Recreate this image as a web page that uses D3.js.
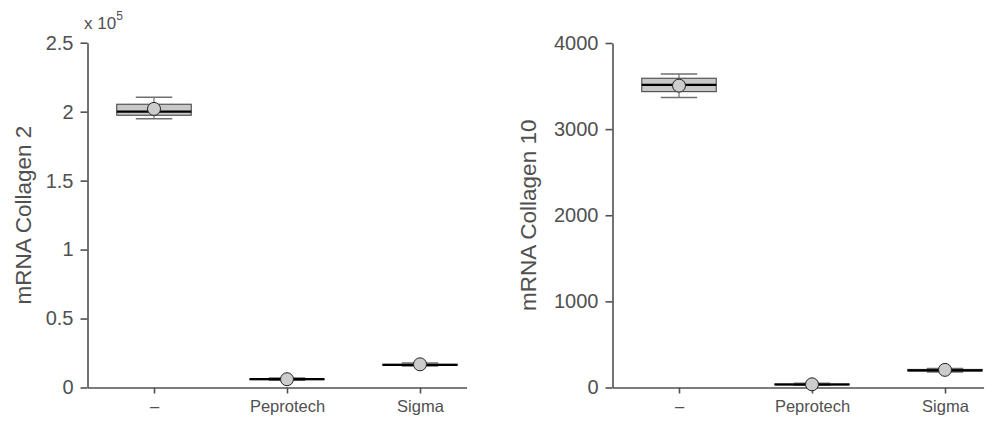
<!DOCTYPE html>
<html><head><meta charset="utf-8">
<script src="https://cdn.jsdelivr.net/npm/d3@7"></script>
<style>
body{margin:0;background:#fff}
svg{display:block}
text{font-family:"Liberation Sans",Arial,Helvetica,sans-serif;fill:#505050}
</style>
</head><body>
<svg id="chart" width="1001" height="427"></svg>
<script>
// Treatment groups (x axis)
const categories = ["\u2013", "Peprotech", "Sigma"];

// Collagen 2 expression: box summary per treatment
const col2Low    = [194900, 5300, 15500];
const col2Q1     = [197400, 5700, 16000];
const col2Median = [200000, 6000, 16300];
const col2Q3     = [205400, 6300, 17000];
const col2High   = [210400, 6800, 17800];
const col2Mean   = [202000, 6000, 16800];
const col2Ticks  = [0, 50000, 100000, 150000, 200000, 250000];
const col2TickLabels = ["0", "0.5", "1", "1.5", "2", "2.5"];

// Collagen 10 expression: box summary per treatment
const col10Low    = [3366, 25, 180];
const col10Q1     = [3435, 30, 192];
const col10Median = [3513, 35, 200];
const col10Q3     = [3591, 42, 210];
const col10High   = [3641, 48, 222];
const col10Mean   = [3505, 37, 205];
const col10Ticks  = [0, 1000, 2000, 3000, 4000];
const col10TickLabels = ["0", "1000", "2000", "3000", "4000"];

const svg = d3.select("#chart");
const AXIS = "#505050";

function panel(cfg) {
  const g = svg.append("g");
  const x = d3.scaleLinear().domain([0.5, cfg.xMax]).range([cfg.left, cfg.left + (cfg.xMax - 0.5) * 133]);
  const y = d3.scaleLinear().domain([0, cfg.yMax]).range([cfg.bottom, cfg.top]);

  const stats = categories.map((c, i) => ({
    c, pos: i + 1,
    lo: cfg.low[i], q1: cfg.q1[i], med: cfg.median[i], q3: cfg.q3[i], hi: cfg.high[i], mean: cfg.mean[i]
  }));

  const boxHalf = 0.28, capHalf = 0.137;

  // y axis
  const yAxis = d3.axisLeft(y).tickValues(cfg.ticks)
    .tickFormat((d, i) => cfg.tickLabels[i]).tickSizeOuter(0).tickSizeInner(7).tickPadding(7);
  const ya = g.append("g").attr("transform", `translate(${cfg.left},0)`).call(yAxis);
  ya.selectAll(".tick text").attr("font-size", 20);
  // x axis
  const xAxis = d3.axisBottom(x).tickValues([1, 2, 3])
    .tickFormat((d, i) => categories[i]).tickSizeOuter(0).tickSizeInner(6).tickPadding(7);
  const xa = g.append("g").attr("transform", `translate(0,${cfg.bottom})`).call(xAxis);
  xa.selectAll(".tick text").attr("font-size", 16.5);
  [ya, xa].forEach(a => {
    a.select(".domain").attr("stroke", AXIS).attr("stroke-width", 1.6);
    a.selectAll(".tick line").attr("stroke", AXIS).attr("stroke-width", 1.6);
    a.selectAll(".tick text").attr("fill", "#505050")
      .attr("font-family", "'Liberation Sans',Arial,sans-serif");
  });

  // y label
  g.append("text")
    .attr("transform", `translate(${cfg.labelX},${(cfg.top + cfg.bottom) / 2}) rotate(-90)`)
    .attr("text-anchor", "middle").attr("dominant-baseline", "central")
    .attr("font-size", 22.5).text(cfg.label);

  const b = g.selectAll("g.box").data(stats).join("g").attr("class", "box");
  // whiskers
  b.append("line").attr("x1", d => x(d.pos)).attr("x2", d => x(d.pos))
    .attr("y1", d => y(d.hi)).attr("y2", d => y(d.q3)).attr("stroke", "#555").attr("stroke-width", 1);
  b.append("line").attr("x1", d => x(d.pos)).attr("x2", d => x(d.pos))
    .attr("y1", d => y(d.q1)).attr("y2", d => y(d.lo)).attr("stroke", "#555").attr("stroke-width", 1);
  b.append("line").attr("x1", d => x(d.pos - capHalf)).attr("x2", d => x(d.pos + capHalf))
    .attr("y1", d => y(d.hi)).attr("y2", d => y(d.hi)).attr("stroke", "#707070").attr("stroke-width", 1.5);
  b.append("line").attr("x1", d => x(d.pos - capHalf)).attr("x2", d => x(d.pos + capHalf))
    .attr("y1", d => y(d.lo)).attr("y2", d => y(d.lo)).attr("stroke", "#707070").attr("stroke-width", 1.5);
  // box
  b.append("rect").attr("x", d => x(d.pos - boxHalf)).attr("width", d => x(d.pos + boxHalf) - x(d.pos - boxHalf))
    .attr("y", d => y(d.q3)).attr("height", d => y(d.q1) - y(d.q3))
    .attr("fill", "#c8c8c8").attr("stroke", "#3a3a3a").attr("stroke-width", 1);
  // median
  b.append("line").attr("x1", d => x(d.pos - boxHalf)).attr("x2", d => x(d.pos + boxHalf))
    .attr("y1", d => y(d.med)).attr("y2", d => y(d.med)).attr("stroke", "#000").attr("stroke-width", 2.2);
  // mean marker
  b.append("circle").attr("cx", d => x(d.pos)).attr("cy", d => y(d.mean)).attr("r", 6.5)
    .attr("fill", "#cccccc").attr("stroke", "#222").attr("stroke-width", 1);

  return g;
}

const left = panel({
  left: 87.5, top: 42.7, bottom: 387.5, yMax: 250000, xMax: 3.35,
  ticks: col2Ticks, tickLabels: col2TickLabels, label: "mRNA Collagen 2", labelX: 23,
  low: col2Low, q1: col2Q1, median: col2Median, q3: col2Q3, high: col2High, mean: col2Mean
});
// exponent note for the Collagen 2 axis
const ex = left.append("text").attr("x", 84).attr("y", 29).attr("font-size", 17);
ex.append("tspan").text("x 10");
ex.append("tspan").attr("dy", -9).attr("font-size", 12).text("5");

panel({
  left: 612.5, top: 43, bottom: 387.5, yMax: 4000, xMax: 3.29,
  ticks: col10Ticks, tickLabels: col10TickLabels, label: "mRNA Collagen 10", labelX: 528,
  low: col10Low, q1: col10Q1, median: col10Median, q3: col10Q3, high: col10High, mean: col10Mean
});
</script>
</body></html>
